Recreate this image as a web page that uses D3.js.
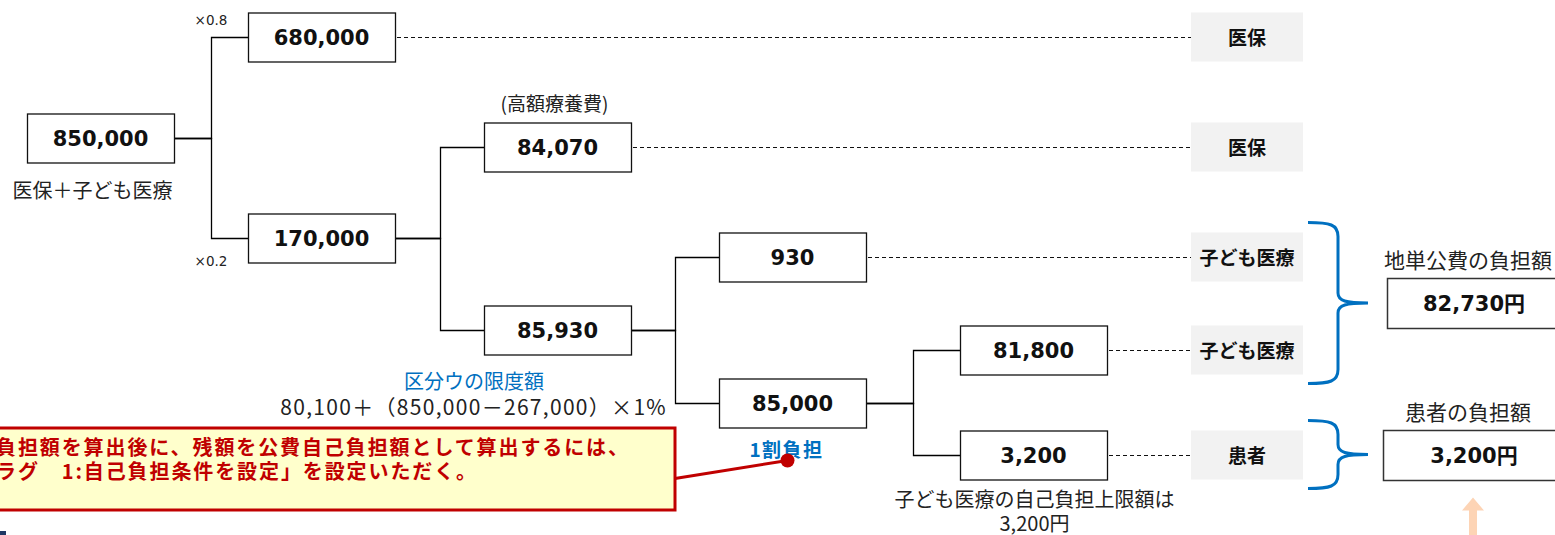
<!DOCTYPE html>
<html>
<head>
<meta charset="utf-8">
<script src="https://cdn.jsdelivr.net/npm/d3@7"></script>
<style>
  body { margin: 0; background: #fff; overflow: hidden; }
  svg { display: block; }
  .jp { font-family: "Noto Sans CJK JP", "Noto Sans", sans-serif; }
  .num { font-family: "DejaVu Sans", "Noto Sans CJK JP", sans-serif; font-weight: bold; }
</style>
</head>
<body>
<script>
// tree of amounts (id, parent)
var nodeIds = ["850,000", "680,000", "170,000", "84,070", "85,930", "930", "85,000", "81,800", "3,200"];
var nodeParents = ["", "850,000", "850,000", "170,000", "170,000", "85,930", "85,930", "85,000", "85,000"];
var ratioLabels = ["×0.8", "×0.2"];

// who pays each leaf, in leaf order
var leafPayers = ["医保", "医保", "子ども医療", "子ども医療", "患者"];

// brace groups over the leaves
var groupLeaves = [[2, 3], [4]];
var groupTitles = ["地単公費の負担額", "患者の負担額"];
var groupValues = ["82,730円", "3,200円"];

var rootNote = "医保＋子ども医療";
var kogakuNote = "(高額療養費)";
var limitNotes = ["区分ウの限度額", "80,100＋（850,000－267,000）×1%"];
var shareNote = "1割負担";
var capNotes = ["子ども医療の自己負担上限額は", "3,200円"];
var calloutLines = ["負担額を算出後に、残額を公費自己負担額として算出するには、",
                    "ラグ　1:自己負担条件を設定」を設定いただく。"];

function init() {
    var w = 1555, h = 535;
    var boxW = 147, boxH = 49;
    var payX = 1191, payW = 112;
    var blue = "#0070c0", red = "#c00000";

    var svg = d3.select("body").append("svg")
        .attr("width", w)
        .attr("height", h);

    var root = d3.stratify()
        .id(function(d) { return d.id; })
        .parentId(function(d) { return d.parent || null; })
        (nodeIds.map(function(id, i) { return {id: id, parent: nodeParents[i]}; }));

    // leaves spread vertically, parents at mean of children (spacing tuned)
    d3.cluster()
        .size([1, 1])
        .separation(function(a, b) {
            return a.parent === b.parent ? 1 : (a.depth === 4 ? 0.89 : 1.05);
        })(root);

    var leaves = root.leaves();
    var yScale = d3.scaleLinear()
        .domain(d3.extent(leaves, function(d) { return d.x; }))
        .range([37, 455]);
    var xScale = d3.scaleOrdinal()
        .domain([0, 1, 2, 3, 4])
        .range([27, 248, 484, 719, 960]);

    var nodes = root.descendants();
    nodes.forEach(function(d) {
        d.px = xScale(d.depth);
        d.py = Math.round(yScale(d.x)) + 0.5;
    });
    function byId(id) { return nodes.find(function(d) { return d.id === id; }); }

    // elbow connectors
    svg.selectAll("path.link")
        .data(root.links())
        .enter()
        .append("path")
        .attr("class", "link")
        .attr("fill", "none")
        .attr("stroke", "#000")
        .attr("stroke-width", 1.3)
        .attr("d", function(l) {
            var x0 = l.source.px + boxW, x1 = l.target.px;
            var mx = Math.round((x0 + x1) / 2) + 0.5;
            return "M" + x0 + "," + l.source.py + "H" + mx + "V" + l.target.py + "H" + x1;
        });

    // ratio labels on the root split
    svg.selectAll("text.ratio")
        .data(root.children)
        .enter()
        .append("text")
        .attr("class", "ratio")
        .attr("font-family", "DejaVu Sans")
        .attr("font-size", 13.5)
        .attr("fill", "#222")
        .attr("text-anchor", "middle")
        .attr("x", function(d) { return (root.px + boxW + d.px) / 2; })
        .attr("y", function(d, i) { return i === 0 ? d.py - 13 : d.py + 27; })
        .text(function(d, i) { return ratioLabels[i]; });

    // dashed lines from leaves to payer boxes
    svg.selectAll("line.dash")
        .data(leaves)
        .enter()
        .append("line")
        .attr("class", "dash")
        .attr("x1", function(d) { return d.px + boxW + 2; })
        .attr("x2", payX)
        .attr("y1", function(d) { return d.py; })
        .attr("y2", function(d) { return d.py; })
        .attr("stroke", "#111")
        .attr("stroke-width", 1)
        .attr("stroke-dasharray", "4,3");

    // amount boxes
    var g = svg.selectAll("g.node")
        .data(nodes)
        .enter()
        .append("g")
        .attr("class", "node");
    g.append("rect")
        .attr("x", function(d) { return d.px + 0.5; })
        .attr("y", function(d) { return d.py - boxH / 2; })
        .attr("width", boxW)
        .attr("height", boxH)
        .attr("fill", "#fff")
        .attr("stroke", "#111")
        .attr("stroke-width", 1.3);
    g.append("text")
        .attr("class", "num")
        .attr("font-size", 21)
        .attr("text-anchor", "middle")
        .attr("x", function(d) { return d.px + boxW / 2; })
        .attr("y", function(d) { return d.py + 7.5; })
        .attr("fill", "#111")
        .text(function(d) { return d.id; });

    // payer boxes
    var pg = svg.selectAll("g.payer")
        .data(leaves)
        .enter()
        .append("g")
        .attr("class", "payer");
    pg.append("rect")
        .attr("x", payX)
        .attr("y", function(d) { return d.py - 25; })
        .attr("width", payW)
        .attr("height", boxH)
        .attr("fill", "#f2f2f2");
    pg.append("text")
        .attr("class", "jp")
        .attr("font-size", 19)
        .attr("font-weight", "bold")
        .attr("text-anchor", "middle")
        .attr("x", payX + payW / 2)
        .attr("y", function(d) { return d.py + 7; })
        .attr("fill", "#111")
        .text(function(d, i) { return leafPayers[i]; });

    // braces and totals
    var bx = 1308;
    var groups = groupLeaves.map(function(idx, i) {
        var ys = idx.map(function(k) { return leaves[k].py; });
        var top = d3.min(ys) - 35, bot = d3.max(ys) + 33;
        return {top: top, bot: bot, mid: (top + bot) / 2, title: groupTitles[i], value: groupValues[i]};
    });
    svg.selectAll("path.brace")
        .data(groups)
        .enter()
        .append("path")
        .attr("class", "brace")
        .attr("fill", "none")
        .attr("stroke", blue)
        .attr("stroke-width", 3)
        .attr("d", function(d) {
            var x0 = bx, x1 = bx + 30, x2 = bx + 60;
            return "M" + x0 + "," + d.top +
                "C" + (x0 + 22) + "," + d.top + " " + x1 + "," + (d.top + 2) + " " + x1 + "," + (d.top + 14) +
                "L" + x1 + "," + (d.mid - 10) +
                "C" + x1 + "," + (d.mid - 2) + " " + (x1 + 8) + "," + d.mid + " " + x2 + "," + d.mid +
                "C" + (x1 + 8) + "," + d.mid + " " + x1 + "," + (d.mid + 2) + " " + x1 + "," + (d.mid + 10) +
                "L" + x1 + "," + (d.bot - 14) +
                "C" + x1 + "," + (d.bot - 2) + " " + (x0 + 22) + "," + d.bot + " " + x0 + "," + d.bot;
        });

    var tg = svg.selectAll("g.total")
        .data(groups)
        .enter()
        .append("g")
        .attr("class", "total");
    tg.append("rect")
        .attr("x", function(d, i) { return i === 0 ? 1387.5 : 1383.5; })
        .attr("y", function(d) { return Math.round(d.mid - 25) + 0.5; })
        .attr("width", 180)
        .attr("height", 50)
        .attr("fill", "#fff")
        .attr("stroke", "#333")
        .attr("stroke-width", 1.5);
    tg.append("text")
        .attr("class", "num")
        .attr("font-size", 21)
        .attr("text-anchor", "middle")
        .attr("x", 1474)
        .attr("y", function(d) { return d.mid + 8; })
        .attr("fill", "#111")
        .text(function(d) { return d.value; });
    tg.append("text")
        .attr("class", "jp")
        .attr("font-size", 21)
        .attr("text-anchor", "middle")
        .attr("x", 1468)
        .attr("y", function(d) { return d.mid - 35; })
        .attr("fill", "#222")
        .text(function(d) { return d.title; });

    // orange arrow under the patient total
    var ay = groups[1].mid + 43;
    svg.append("path")
        .attr("fill", "#fdd4b5")
        .attr("d", "M1473," + ay + "L1484," + (ay + 13) + "H1477V" + h + "H1469V" + (ay + 13) + "H1462Z");

    // notes
    var n850 = byId("850,000"), n84070 = byId("84,070"), n85930 = byId("85,930"),
        n85000 = byId("85,000"), n3200 = byId("3,200");

    function note(x, y, str, size, color, anchor, weight, spacing) {
        return svg.append("text")
            .attr("class", "jp")
            .attr("x", x)
            .attr("y", y)
            .attr("font-size", size)
            .attr("fill", color)
            .attr("font-weight", weight || "normal")
            .attr("letter-spacing", spacing || 0)
            .attr("text-anchor", anchor)
            .text(str);
    }
    note(n850.px + boxW / 2 - 8, n850.py + 59, rootNote, 20, "#222", "middle");
    note(n84070.px + boxW / 2 - 3, n84070.py - 37, kogakuNote, 19, "#222", "middle");
    note(n85930.px - 10, n85930.py + 58, limitNotes[0], 20, blue, "middle");
    note(n85930.px + boxW + 36, n85930.py + 84, limitNotes[1], 21, "#222", "end", "normal", 1.3);
    note(n85000.px + boxW / 2 - 6, n85000.py + 53, shareNote, 19, blue, "middle", "bold", 1.5);
    note(n3200.px + boxW / 2 + 1, n3200.py + 51, capNotes[0], 20, "#222", "middle");
    note(n3200.px + boxW / 2 + 1, n3200.py + 75, capNotes[1], 20, "#222", "middle");

    // callout
    var dot = [n85000.px + boxW / 2 - 5, n85000.py + 57];
    svg.append("line")
        .attr("x1", 675).attr("y1", dot[1] + 18)
        .attr("x2", dot[0]).attr("y2", dot[1])
        .attr("stroke", red)
        .attr("stroke-width", 3);
    svg.append("circle")
        .attr("cx", dot[0]).attr("cy", dot[1])
        .attr("r", 7)
        .attr("fill", red);
    svg.append("rect")
        .attr("x", -10).attr("y", 428)
        .attr("width", 685).attr("height", 82)
        .attr("fill", "#ffffcc")
        .attr("stroke", red)
        .attr("stroke-width", 3);
    svg.selectAll("text.callout")
        .data(calloutLines)
        .enter()
        .append("text")
        .attr("class", "jp callout")
        .attr("x", -4)
        .attr("y", function(d, i) { return 455 + i * 24; })
        .attr("font-size", 20)
        .attr("font-weight", "bold")
        .attr("letter-spacing", 1.9)
        .attr("fill", red)
        .text(function(d) { return d; });

    // small navy mark bottom left
    svg.append("rect")
        .attr("x", 0).attr("y", 531)
        .attr("width", 6).attr("height", 4)
        .attr("fill", "#1f3864");
}

window.onload = init;
</script>
</body>
</html>
